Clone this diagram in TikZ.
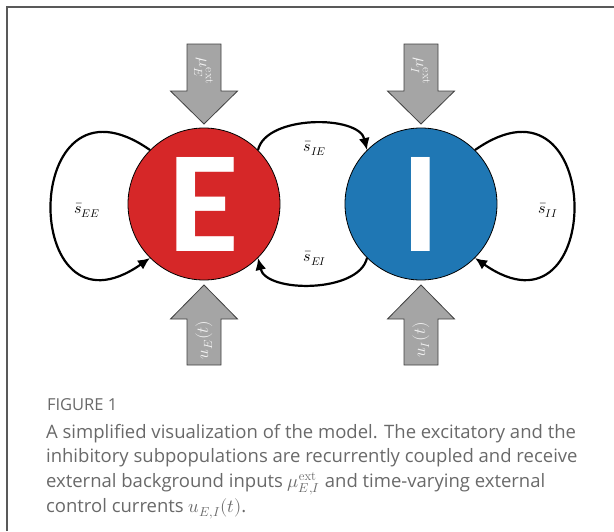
\documentclass[tikz,border=0pt]{standalone}
\usepackage{fontspec}
\usepackage{amsmath}
\usepackage{unicode-math}
\setmathfont{Latin Modern Math}
\setsansfont{Open Sans}
\newfontfamily\letterfont{Carlito}
\usetikzlibrary{arrows.meta}
\definecolor{popred}{RGB}{214,39,40}
\definecolor{popblue}{RGB}{31,119,180}
\definecolor{inputgray}{RGB}{165,165,165}
\definecolor{capgray}{RGB}{105,105,105}

\begin{document}
\begin{tikzpicture}[->, >={Latex[length=12pt,width=11pt]}, line width=2.2pt, x=1pt, y=1pt]
    \tikzset{pop/.style={draw=black, line width=0.8pt, circle, minimum size=152pt, inner sep=0pt, text=white, font=\letterfont\bfseries\fontsize{145}{145}\selectfont}};
    \tikzset{lbl/.style={font=\fontsize{16}{19}\selectfont, inner sep=0pt}};
    \tikzset{input/.style={-, draw=black!75, line width=0.8pt, fill=inputgray}};
    \tikzset{inlbl/.style={text=white!95!black, font=\fontsize{17}{20}\selectfont, inner sep=0pt}};
    \useasboundingbox (0,0) rectangle (614,-531);
    \draw[-, line width=1.8pt, black!65] (7,-531) -- (7,-7) -- (614,-7);
    % populations
    \node[pop, fill=popred] (pE) at (204,-204) {\raisebox{-4pt}{E}};
    \node[pop, fill=popblue] (pI) at (421,-204) {\raisebox{-4pt}{I}};
    % external inputs
    \foreach \x in {204, 421} {
      \draw[input] (\x-17,-44) -- ++(34,0) -- ++(0,-47) -- ++(16.5,0) -- (\x,-124) -- (\x-33.5,-91) -- ++(16.5,0) -- cycle;
      \draw[input] (\x-17,-365) -- ++(34,0) -- ++(0,46) -- ++(16.5,0) -- (\x,-285) -- (\x-33.5,-319) -- ++(16.5,0) -- cycle;
    }
    \node[inlbl, rotate=-90] (muE) at (204,-71) {$\mu_E^{\mathrm{ext}}$};
    \node[inlbl, rotate=-90] (muI) at (421,-71) {$\mu_I^{\mathrm{ext}}$};
    \node[inlbl, rotate=90] (uE) at (204,-340) {$u_E(t)$};
    \node[inlbl, rotate=90] (uI) at (421,-340) {$u_I(t)$};
    % couplings
    {
      \path
        (pE.135) edge[out=145, in=215, looseness=3.8] (pE.225)
        (pI.45) edge[out=35, in=-35, looseness=3.8] (pI.315)
        (pE.45) edge[out=77, in=103, looseness=0.85] (pI.135)
        (pI.225) edge[out=-103, in=-77, looseness=0.85] (pE.315)
        ;
    }
    \node[lbl] (sEE) at (87,-210) {$\bar{s}_{EE}$};
    \node[lbl] (sII) at (548,-210) {$\bar{s}_{II}$};
    \node[lbl] (sIE) at (315,-148) {$\bar{s}_{IE}$};
    \node[lbl] (sEI) at (315,-258) {$\bar{s}_{EI}$};
    % caption
    \node[anchor=north west, inner sep=0pt, text=capgray, font=\sffamily\fontsize{16.5}{20}\selectfont] (figno) at (46,-397) {FIGURE 1};
    \node[anchor=north west, inner sep=0pt, align=left, text=capgray, font=\sffamily\fontsize{18.5}{24.7}\selectfont] (caption) at (45,-423)
      {A simplified visualization of the model. The excitatory and the\\
       inhibitory subpopulations are recurrently coupled and receive\\
       external background inputs $\mu_{E,I}^{\mathrm{ext}}$ and time-varying external\\
       control currents $u_{E,I}(t)$.};
\end{tikzpicture}
\end{document}
